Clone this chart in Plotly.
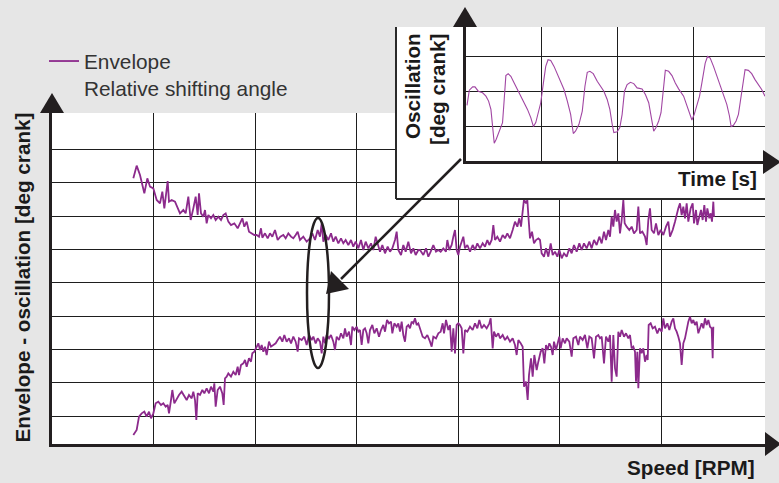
import plotly.graph_objects as go

# ---------------- data ----------------
# main chart: speed (arbitrary units, one grid = 304.5) vs envelope (one grid = 10)
upper_speed = [244,254,264,277,286,294,304,314,324,331,337,347,351,359,369,377,384,394,401,409,
    416,424,431,437,441,447,454,459,464,469,477,484,491,499,507,514,521,529,537,547,
    557,564,571,577,584,591,599,607,614,621,627,631,639,647,654,661,669,677,685,694,
    701,709,717,724,731,737,744,754,764,774,781,789,797,804,809,814,821,829,837,844,
    851,859,867,874,881,889,897,904,911,919,927,934,941,949,957,964,971,977,984,991,
    999,1007,1014,1021,1029,1034,1039,1047,1054,1061,1069,1077,1084,1091,1099,
    1104,1114,1122,1129,1136,1144,1152,1159,1166,1174,1182,1186,1192,1199,1204,1209,1214,1219,1224,1229,
    1234,1239,1246,1254,1262,1269,1276,1284,1292,1299,1306,1312,1319,1324,1329,1336,1344,1352,1359,1366,
    1374,1382,1389,1396,1402,1407,1412,1416,1422,1426,1430,1434,1440,1446,1452,1459,1464,1469,1476,1482,
    1489,1496,1502,1509,1516,1522,1529,1536,1544,1552,1559,1566,1574,1582,1589,1596,1604,1612,1619,1626,
    1634,1642,1649,1656,1662,1669,1674,1679,1684,1689,1694,1699,1704,1709,1714,1718,1724,1732,1739,1746,
    1754,1759,1764,1771,1779,1784,1789,1794,1799,1806,1812,1819,1826,1834,1842,1849,1854,1862,1869,1874,
    1879,1884,1889,1894,1899,1904,1909,1916,1922,1926,1932,1936,1942,1947,1952,1957,1962,1966,1972,1976,
    1980,1984,1986]
upper_env = [81.3,85.1,82.3,76.8,81.3,78.8,78.3,74.8,73.8,77.3,72.3,80.5,74.3,74.8,74.3,72.3,70.8,71.8,70.8,75.8,
    68.8,72.3,75.8,70.3,76.8,70.8,69.8,71.8,67.8,70.3,69.3,70.3,68.8,69.8,68.8,70.3,70.8,68.3,67.3,67.8,
    66.3,67.8,69.3,66.8,68.3,65.3,64.8,64.3,64.3,63.8,66.3,63.5,64.8,63.3,64.8,63.8,65.8,62.8,63.8,64.3,
    63.3,64.8,63.8,63.3,64.3,65.3,62.8,63.8,62.3,63.3,64.8,62.8,65.8,63.8,67.8,62.3,64.3,62.8,64.8,62.3,
    63.8,61.8,63.3,61.8,62.8,61.3,62.8,60.8,62.3,60.3,62.8,59.8,62.3,60.3,61.8,59.8,63.8,61.3,59.3,61.3,
    58.8,60.8,59.3,60.3,62.8,65.3,59.8,58.3,61.3,59.3,62.3,58.8,60.3,58.3,59.8,
    59.8,58.3,60.3,57.8,59.3,61.3,59.3,59.8,59.3,60.3,59.3,62.8,59.8,61.3,63.8,65.8,59.8,58.3,60.8,62.3,
    63.8,60.3,61.3,59.3,61.3,59.8,61.8,60.3,61.8,60.8,62.8,61.3,62.8,67.3,62.8,63.8,62.3,64.3,63.3,64.8,
    63.3,65.8,68.3,66.8,69.3,66.8,71.8,75.0,73.8,74.8,68.8,63.3,65.3,61.8,62.8,63.3,62.8,58.8,57.8,60.3,
    57.8,61.8,58.3,59.3,57.8,59.8,57.3,58.8,57.8,60.3,58.8,61.3,59.3,61.8,59.8,61.8,60.3,62.3,60.3,62.8,
    61.3,63.8,61.8,65.3,62.8,65.8,63.8,69.8,66.8,71.8,68.3,70.8,64.8,68.8,74.8,67.8,66.8,65.8,66.8,64.8,
    65.8,72.8,64.8,65.3,63.8,61.3,68.8,72.3,65.8,64.8,67.8,64.3,65.8,64.3,66.8,68.3,63.8,65.8,68.3,70.8,
    72.3,73.8,70.3,72.8,69.3,73.8,68.3,72.3,73.8,67.8,71.8,67.3,69.8,71.8,68.8,73.3,68.3,72.3,69.3,70.8,
    68.3,74.3,69.8]

lower_speed = [244,254,261,269,277,284,291,297,304,311,319,327,334,341,347,351,357,361,367,374,
    381,389,397,404,411,419,424,429,433,437,444,451,457,464,471,477,484,487,491,497,
    504,511,515,519,524,529,537,544,551,557,561,567,574,579,584,591,597,601,607,614,
    619,624,629,634,639,644,651,657,664,671,677,684,691,697,704,711,717,724,731,737,
    741,749,757,764,771,779,784,791,797,804,809,814,819,824,831,837,844,849,854,861,
    867,874,879,884,891,897,901,907,914,919,924,929,934,939,944,949,954,961,967,974,
    981,987,994,999,1005,1011,1017,1021,1027,1034,1039,1044,1049,1054,1059,1064,1069,1074,1079,1084,
    1089,1094,1099,
    1104,1112,1119,1126,1134,1139,1144,1152,1159,1166,1172,1176,1182,1189,1194,1199,1204,1209,1214,1219,
    1224,1229,1234,1239,1246,1254,1262,1269,1276,1282,1289,1296,1304,1312,1316,1322,1326,1332,1339,1344,
    1352,1359,1366,1374,1382,1389,1394,1399,1406,1412,1416,1422,1427,1431,1437,1442,1447,1454,1459,1466,
    1472,1477,1482,1487,1492,1497,1502,1506,1512,1516,1522,1526,1532,1539,1544,1552,1559,1564,1572,1579,
    1584,1592,1599,1606,1612,1619,1626,1632,1639,1644,1649,1656,1662,1669,1674,1679,1684,1689,1694,1699,
    1704,1709,1716,1722,1729,1734,1739,1744,1749,1752,1756,1759,1764,1769,1774,1779,1784,1787,1790,1796,
    1802,1809,1816,1822,1829,1834,1839,1846,1852,1859,1864,1869,1874,1879,1884,1889,1894,1899,1904,1909,
    1914,1919,1924,1929,1934,1939,1944,1949,1954,1959,1964,1969,1974,1979,1982,1984]
lower_env = [4.3,5.8,9.8,10.8,11.3,9.8,11.3,9.3,10.8,13.8,14.3,13.3,13.8,12.8,13.3,10.8,14.8,17.8,13.8,15.3,
    16.3,17.3,15.8,14.8,16.3,15.3,17.3,14.8,8.8,16.8,16.3,17.8,16.8,18.3,16.8,18.8,17.3,19.8,12.8,17.8,
    18.8,16.8,13.3,21.3,21.8,22.8,21.8,23.3,22.3,24.8,22.3,25.3,25.8,26.8,24.8,27.3,26.3,28.8,29.3,30.8,
    31.8,29.8,31.3,29.3,30.8,28.3,32.3,30.8,31.3,31.8,32.8,33.8,32.3,34.3,32.3,33.3,31.8,33.8,32.3,29.3,
    33.3,32.8,33.8,31.3,34.3,32.8,33.8,31.8,33.3,32.3,28.8,33.8,31.8,34.3,33.3,34.3,32.3,29.8,33.8,32.8,
    34.8,33.3,36.3,33.8,35.3,31.3,36.8,35.8,36.8,35.3,35.8,31.3,35.8,36.3,34.8,31.8,35.8,37.3,34.8,36.3,
    33.8,35.8,37.3,35.3,38.8,37.8,38.3,34.8,37.8,36.8,37.8,35.3,38.3,34.3,32.3,36.8,37.3,36.3,38.3,37.8,
    39.3,37.3,37.8,
    36.3,33.8,33.3,34.3,32.3,30.8,33.8,33.3,34.8,35.3,37.8,34.8,38.8,35.8,37.3,29.3,36.3,28.8,37.3,37.8,
    37.3,36.3,28.8,35.8,35.3,36.8,35.8,37.8,36.3,38.8,36.3,37.3,36.3,37.8,39.3,30.3,35.3,33.8,34.8,33.3,
    34.3,32.8,33.8,32.3,33.3,31.3,28.3,32.8,31.8,30.8,18.8,20.3,14.8,22.3,27.3,21.8,28.3,23.8,26.3,29.3,
    30.3,25.8,31.3,29.8,31.8,30.8,28.3,32.3,29.8,31.8,33.8,30.3,33.3,31.8,33.3,32.3,27.8,33.3,33.8,31.3,
    33.8,32.8,34.3,30.3,33.8,33.3,27.3,33.8,34.3,33.3,33.8,25.8,33.8,32.3,34.3,20.3,34.3,24.3,21.8,35.3,
    33.8,35.8,33.8,34.8,33.3,34.3,30.3,30.8,29.3,20.3,29.3,18.3,30.3,28.8,30.3,26.3,28.3,26.8,37.3,37.8,
    36.3,36.8,34.8,36.3,35.3,39.3,36.3,37.8,35.8,38.3,39.3,36.3,35.3,33.8,31.8,25.3,31.8,33.3,36.3,38.3,
    39.8,37.8,38.8,37.3,38.3,34.8,36.3,37.8,36.3,39.3,37.3,38.8,36.8,36.3,27.3,36.8]

# inset: time (arbitrary units, one grid = 228) vs oscillation (one grid = 105)
inset_time = [3,10,20,27,37,50,60,68,75,80,85,91,97,105,110,115,120,127,135,145,
    155,167,175,185,195,203,210,217,225,233,240,247,255,265,275,285,295,305,315,323,
    330,340,350,358,365,373,383,395,405,415,425,433,440,445,455,463,470,477,485,495,
    505,515,530,540,550,557,565,572,580,587,593,600,610,620,630,640,655,665,675,680,
    687,695,703,710,720,727,735,745,755,765,775,785,793,798,805,813,820,827,835,840,
    850,860,870,880,890,900]
inset_osc = [168,214,224,224,211,206,196,181,156,106,54,66,81,101,116,186,258,264,256,236,
    216,196,181,156,131,104,116,141,176,236,286,306,304,286,261,236,216,181,141,83,
    91,111,151,226,268,271,264,241,226,211,186,156,111,86,88,101,141,211,231,238,
    234,221,218,201,176,141,90,101,121,146,206,274,271,258,236,218,196,166,141,124,
    141,166,196,236,296,316,311,286,256,226,201,171,136,104,108,121,141,186,251,276,
    274,264,246,231,216,196]

GRID_X = 304.5
main_xticks = [GRID_X * k for k in range(1, 7)]
main_yticks = [10, 20, 30, 40, 50, 60, 70, 80, 90]
inset_xticks = [228, 456, 684]
inset_yticks = [105, 210, 315]

# ---------------- layout helpers ----------------
W, H = 779, 483
ML, MR, MT, MB = 52, 14, 0, 39
PW, PH = W - ML - MR, H - MT - MB
def px(x): return (x - ML) / PW
def py(y): return (H - MB - y) / PH

PURPLE = "#8c2a8c"
INK = "#231f20"
FONT = "Liberation Sans, Arial, Helvetica, sans-serif"

fig = go.Figure()
fig.add_trace(go.Scatter(x=upper_speed, y=upper_env, mode="lines",
    line=dict(color=PURPLE, width=1.8),
    name="Envelope<br>Relative shifting angle", showlegend=True))
fig.add_trace(go.Scatter(x=lower_speed, y=lower_env, mode="lines",
    line=dict(color=PURPLE, width=1.8), showlegend=False))
# empty trace to create the white inset panel
fig.add_trace(go.Scatter(x=[], y=[], xaxis="x2", yaxis="y2", showlegend=False))
fig.add_trace(go.Scatter(x=inset_time, y=inset_osc, mode="lines", xaxis="x3", yaxis="y3",
    line=dict(color="#a146a3", width=1.1), showlegend=False))

grid = dict(showgrid=True, gridcolor="#1e1e1e", gridwidth=1.2, zeroline=False,
            showticklabels=False, ticks="")
fig.update_layout(
    width=W, height=H, margin=dict(l=ML, r=MR, t=MT, b=MB),
    paper_bgcolor="#e6e6e6", plot_bgcolor="white",
    font=dict(family=FONT, color="#333333"),
    showlegend=True,
    legend=dict(x=px(44), y=py(41), xanchor="left", yanchor="top",
                bgcolor="rgba(0,0,0,0)", font=dict(size=20.8, color="#333333"),
                valign="top", tracegroupgap=0),
    xaxis=dict(domain=[0, 1], range=[0, 2139], tickvals=main_xticks,
               showline=True, linecolor=INK, linewidth=3, **grid),
    yaxis=dict(domain=[0, py(113)], range=[1.6, 100.9], tickvals=main_yticks,
               showline=True, linecolor=INK, linewidth=3, **grid),
    xaxis2=dict(domain=[px(396), 1], range=[0, 1], anchor="y2", showgrid=False,
                zeroline=False, showticklabels=False, ticks="", showline=False),
    yaxis2=dict(domain=[py(199), py(27)], range=[0, 1], anchor="x2", showgrid=False,
                zeroline=False, showticklabels=False, ticks="", showline=False),
    xaxis3=dict(domain=[px(466), 1], range=[0, 900], anchor="y3", tickvals=inset_xticks,
                showline=True, linecolor=INK, linewidth=3, **grid),
    yaxis3=dict(domain=[py(161), py(27)], range=[0, 405], anchor="x3", tickvals=inset_yticks,
                showline=True, linecolor=INK, linewidth=3, **grid),
)

def tri(p1, p2, p3):
    return ("M{:.5f},{:.5f} L{:.5f},{:.5f} L{:.5f},{:.5f} Z".format(
        px(p1[0]), py(p1[1]), px(p2[0]), py(p2[1]), px(p3[0]), py(p3[1])))

shapes = []
# axis arrow heads
for pts in [((40, 113), (64, 113), (52, 93)),
            ((765, 432), (765, 456), (781, 444)),
            ((453, 27), (477, 27), (465, 7)),
            ((763, 150), (763, 174), (781, 162))]:
    shapes.append(dict(type="path", xref="paper", yref="paper", path=tri(*pts),
                       fillcolor=INK, line=dict(width=0), layer="above"))
# inset frame (left + bottom edges)
shapes.append(dict(type="line", xref="paper", yref="paper", x0=px(396), x1=px(396),
                   y0=py(27), y1=py(199), line=dict(color="#2a2a2a", width=2), layer="above"))
shapes.append(dict(type="line", xref="paper", yref="paper", x0=px(396), x1=1,
                   y0=py(199), y1=py(199), line=dict(color="#2a2a2a", width=2), layer="above"))
# ellipse highlighting the region
shapes.append(dict(type="circle", xref="x", yref="y", x0=765, x1=831, y0=24.4, y1=69.4,
                   line=dict(color=INK, width=2.5), layer="above"))
# pointer arrow
shapes.append(dict(type="line", xref="paper", yref="paper", x0=px(461), y0=py(159),
                   x1=px(341), y1=py(279), line=dict(color=INK, width=2.5), layer="above"))
shapes.append(dict(type="path", xref="paper", yref="paper",
                   path=tri((326, 294), (331, 271), (349, 289)),
                   fillcolor=INK, line=dict(width=0), layer="above"))
fig.update_layout(shapes=shapes)

bold = dict(family=FONT, size=20.7, color="#1a1a1a", weight="bold")
ann = [
    dict(text="Envelope - oscillation [deg crank]", x=px(21.5), y=py(278), textangle=-90,
         xanchor="center", yanchor="middle"),
    dict(text="Speed [RPM]", x=px(757), y=py(468), xanchor="right", yanchor="middle"),
    dict(text="Time [s]", x=px(759), y=py(178), xanchor="right", yanchor="middle"),
    dict(text="Oscillation", x=px(413), y=py(31), textangle=-90, xanchor="center", yanchor="top"),
    dict(text="[deg crank]", x=px(438), y=py(31), textangle=-90, xanchor="center", yanchor="top"),
]
for a in ann:
    a.update(xref="paper", yref="paper", showarrow=False, font=bold)
fig.update_layout(annotations=ann)

fig.write_html("out.html")
